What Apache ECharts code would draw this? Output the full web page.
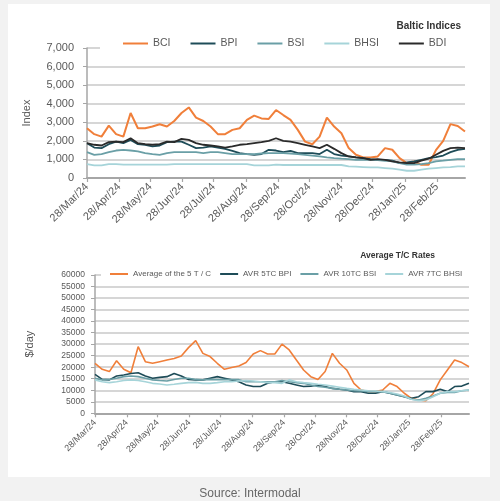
<!DOCTYPE html>
<html><head><meta charset="utf-8">
<script src="https://cdn.jsdelivr.net/npm/echarts@6/dist/echarts.min.js"></script>
<style>
html,body{margin:0;padding:0;background:#f2f2f2;width:500px;height:501px;overflow:hidden;}
#panel{position:absolute;left:8px;top:4px;width:482px;height:473px;background:#fff;}
#chart{position:absolute;left:0;top:0;width:500px;height:501px;}
</style></head><body>
<div id="panel"></div><div id="chart"></div>
<script>
// weekly observation dates
const dates = ['2024-03-28','2024-04-04','2024-04-11','2024-04-18','2024-04-25','2024-05-02','2024-05-09','2024-05-16','2024-05-23','2024-05-30',
'2024-06-06','2024-06-13','2024-06-20','2024-06-27','2024-07-04','2024-07-11','2024-07-18','2024-07-25','2024-08-01','2024-08-08',
'2024-08-15','2024-08-22','2024-08-29','2024-09-05','2024-09-12','2024-09-19','2024-09-26','2024-10-03','2024-10-10','2024-10-17',
'2024-10-24','2024-10-31','2024-11-07','2024-11-14','2024-11-21','2024-11-28','2024-12-05','2024-12-12','2024-12-19','2024-12-26',
'2025-01-02','2025-01-09','2025-01-16','2025-01-23','2025-01-30','2025-02-06','2025-02-13','2025-02-20','2025-02-27','2025-03-06',
'2025-03-13','2025-03-20','2025-03-27'];
const tickDates = ['2024-03-28','2024-04-28','2024-05-28','2024-06-28','2024-07-28','2024-08-28','2024-09-28','2024-10-28','2024-11-28','2024-12-28','2025-01-28','2025-02-28'];
const tickLabels = ['28/Mar/24','28/Apr/24','28/May/24','28/Jun/24','28/Jul/24','28/Aug/24','28/Sep/24','28/Oct/24','28/Nov/24','28/Dec/24','28/Jan/25','28/Feb/25'];

// Baltic Indices
const BCI = [2680,2360,2230,2820,2360,2230,3500,2680,2680,2770,2890,2770,3070,3500,3800,3250,3070,2770,2360,2360,2590,2680,3130,3360,3210,3180,3660,
3390,3130,2590,1960,1820,2230,3250,2770,2410,1610,1250,1110,1110,1160,1610,1520,1070,800,890,710,710,1500,2000,2900,2800,2500];
const BPI = [1875,1640,1610,1820,1960,1875,2050,1820,1790,1700,1750,1930,1960,1960,1790,1610,1640,1700,1640,1570,1460,1340,1290,1250,1290,1520,1480,
1390,1460,1340,1340,1340,1290,1520,1290,1210,1160,1110,1070,1020,980,980,930,800,840,890,980,1070,1125,1210,1390,1520,1570];
const BSI = [1390,1250,1290,1390,1480,1520,1480,1430,1340,1290,1250,1340,1390,1390,1390,1390,1340,1390,1390,1340,1290,1290,1290,1290,1320,1340,1340,
1340,1320,1290,1250,1210,1160,1110,1070,1040,1020,980,980,980,960,930,890,800,715,715,750,800,890,930,980,1020,1020];
const BHSI = [750,680,680,750,750,715,715,715,715,715,715,715,750,750,750,750,750,750,750,750,750,750,750,680,680,680,715,
700,700,700,700,700,700,700,700,700,625,610,590,570,570,535,500,450,390,390,450,500,535,570,590,625,625];
const BDI = [1875,1790,1750,1930,1960,1930,2140,1875,1820,1790,1820,1960,1930,2110,2050,1875,1790,1750,1700,1640,1700,1790,1820,1875,1930,2000,2140,
2000,1960,1875,1790,1700,1610,1790,1570,1340,1160,1110,1070,980,1020,980,890,840,800,800,930,1040,1250,1460,1610,1640,1610];

// Average T/C Rates ($/day)
const AVG5TC = [21700,19100,18100,22800,19100,17600,28900,22400,21700,22400,23100,23800,24900,28500,31500,26000,24600,21700,19100,19900,20500,22000,25700,27200,25700,25700,30000,
27500,23100,18800,15900,14700,18100,26000,21700,18800,13000,10100,9400,9400,10100,13000,11600,8700,6500,5800,5500,8500,14500,18800,23100,22000,20200];
const AVR5TC_BPI = [16900,14700,14500,16200,16600,17300,17600,16200,15200,15600,15900,17300,16200,14700,14500,14500,15200,15900,15200,14500,13700,12300,11600,11600,13000,13700,13700,
13000,12300,11600,11800,12300,11600,10800,10400,10100,9400,9400,8700,8700,9400,8700,7900,7200,6500,7200,9400,9400,10400,9400,11600,11800,13000];
const AVR10TC_BSI = [15200,14500,14700,15200,15900,16200,15900,15200,14500,14200,14000,14700,15200,15200,14700,14500,14700,14600,14600,14600,14600,13700,13700,13700,13700,13700,14200,
13700,13300,13000,12300,11600,11300,10800,10400,10100,9800,9700,9400,9400,9400,8700,7900,7200,6100,5800,6500,7500,8700,9000,9000,9800,10100];
const AVR7TC_BHSI = [14500,13700,13300,13700,14200,14500,14200,13700,13000,12700,12300,12600,13000,13300,13400,13000,13000,13300,13700,13700,14000,14200,14000,13700,13300,13300,13000,
14500,13700,13300,13000,12600,12300,11800,11300,10800,10400,10100,9800,9700,9400,9000,8400,7500,6100,5500,5800,7200,8700,9400,9400,9800,10100];

const t0 = Date.parse(dates[0]);
const dayOf = s => Math.round((Date.parse(s) - t0) / 86400000);
const tickPos = tickDates.map(dayOf);
const labelMap = {}; tickPos.forEach((p, i) => labelMap[p] = tickLabels[i]);
const xMax = dayOf(dates[dates.length - 1]);
const pts = arr => dates.map((d, i) => [dayOf(d), arr[i]]);

const FONT = "'Liberation Sans', Arial, sans-serif";
const TXT = '#595959';
const GRID = '#c8c8c8';
const AX = '#a6a6a6';
const C = {orange:'#f07f3a', dteal:'#1e4c58', mteal:'#6a9fa6', lteal:'#a6d4d9', black:'#2a2a2a'};

function xAxis(gi, fs, margin) {
  return {type:'value', gridIndex:gi, min:0, max:xMax,
    axisLine:{show:true, onZero:false, lineStyle:{color:AX, width:2}},
    axisTick:{show:true, customValues:tickPos, length:4, lineStyle:{color:AX, width:1.2}},
    axisLabel:{customValues:tickPos, rotate:45, fontSize:fs, fontFamily:FONT, color:TXT, margin,
      formatter:v => labelMap[v] || ''},
    splitLine:{show:false}};
}
function yAxis(gi, max, interval, fs, margin, name, gap, fmt) {
  return {type:'value', gridIndex:gi, min:0, max, interval,
    name, nameLocation:'middle', nameGap:gap, nameTextStyle:{fontSize:11, fontFamily:FONT, color:TXT},
    axisLine:{show:true, lineStyle:{color:AX, width:1.5}},
    axisTick:{show:true, length:4, lineStyle:{color:AX}},
    axisLabel:{fontSize:fs, fontFamily:FONT, color:TXT, margin, formatter:fmt},
    splitLine:{show:true, lineStyle:{color:GRID, width:1.5}}};
}
function line(name, arr, color, gi, w) {
  return {name, type:'line', xAxisIndex:gi, yAxisIndex:gi, data:pts(arr), showSymbol:false, symbol:'none',
    lineStyle:{color, width:w}, itemStyle:{color}, animation:false};
}

const chart = echarts.init(document.getElementById('chart'), null, {renderer:'canvas'});
chart.setOption({
  animation:false,
  backgroundColor:'transparent',
  title:[
    {text:'Baltic Indices', right:34, top:16, textStyle:{fontSize:10, fontWeight:'bold', fontFamily:FONT, color:'#333'}},
    {text:'Average T/C Rates', right:60, top:246, textStyle:{fontSize:8.5, fontWeight:'bold', fontFamily:FONT, color:'#333'}},
    {text:'Source: Intermodal', left:'center', top:483, textStyle:{fontSize:12, fontWeight:'normal', fontFamily:FONT, color:'#666'}}
  ],
  graphic:[
    {type:'rect', z:3, shape:{x:100, y:45, width:370, height:6}, style:{fill:'#fff'}},
    {type:'rect', z:3, shape:{x:101, y:272, width:372, height:6}, style:{fill:'#fff'}}
  ],
  legend:[
    {data:['BCI','BPI','BSI','BHSI','BDI'], left:123, top:38, width:380, padding:0,
      icon:'rect', itemWidth:25, itemHeight:2, itemGap:20, textStyle:{fontSize:10.5, fontFamily:FONT, color:TXT}},
    {data:['Average of the 5 T / C','AVR 5TC BPI','AVR 10TC BSI','AVR 7TC BHSI'], left:110, top:270, width:380, padding:0,
      icon:'rect', itemWidth:18, itemHeight:2, itemGap:9, textStyle:{fontSize:8, fontFamily:FONT, color:TXT}}
  ],
  grid:[
    {left:87, right:35, top:48, height:130, containLabel:false},
    {left:95, right:31, top:275, height:138.3, containLabel:false}
  ],
  xAxis:[xAxis(0, 11, 7), xAxis(1, 9, 8)],
  yAxis:[
    yAxis(0, 7000, 1000, 11, 13, 'Index', 55, v => v.toLocaleString('en-US')),
    yAxis(1, 60000, 5000, 8.5, 10, '$/day', 60, v => String(v))
  ],
  series:[
    line('BCI', BCI, C.orange, 0, 2),
    line('BPI', BPI, C.dteal, 0, 1.8),
    line('BSI', BSI, C.mteal, 0, 1.8),
    line('BHSI', BHSI, C.lteal, 0, 1.8),
    line('BDI', BDI, C.black, 0, 1.8),
    line('Average of the 5 T / C', AVG5TC, C.orange, 1, 1.6),
    line('AVR 5TC BPI', AVR5TC_BPI, C.dteal, 1, 1.6),
    line('AVR 10TC BSI', AVR10TC_BSI, C.mteal, 1, 1.6),
    line('AVR 7TC BHSI', AVR7TC_BHSI, C.lteal, 1, 1.6)
  ]
});
</script>
</body></html>
